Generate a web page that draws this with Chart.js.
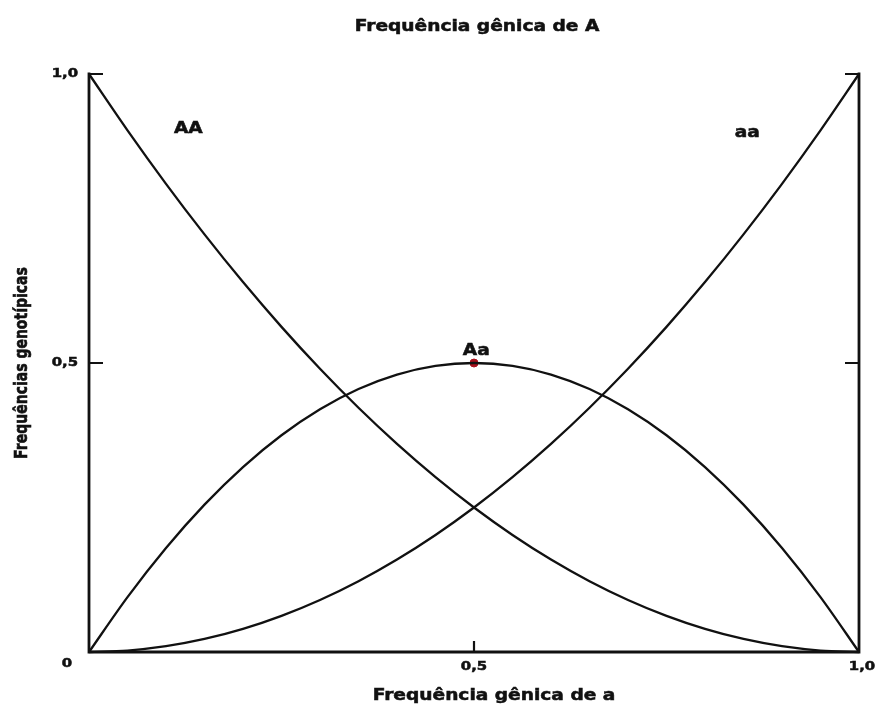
<!DOCTYPE html>
<html>
<head>
<meta charset="utf-8">
<title>Frequências genotípicas</title>
<script src="https://cdn.jsdelivr.net/npm/chart.js@4.4.1/dist/chart.umd.min.js"></script>
<style>
  html, body { margin: 0; padding: 0; background: #fff; }
  canvas { display: block; }
</style>
</head>
<body>
<canvas id="hwChart" width="876" height="706"></canvas>
<script>
// frequencia genica de a (q) and the genotype frequencies
const freqA = [0, 0.05, 0.1, 0.15, 0.2, 0.25, 0.3, 0.35, 0.4, 0.45, 0.5, 0.55, 0.6, 0.65, 0.7, 0.75, 0.8, 0.85, 0.9, 0.95, 1];
const freqAA = [1, 0.9025, 0.81, 0.7225, 0.64, 0.5625, 0.49, 0.4225, 0.36, 0.3025, 0.25, 0.2025, 0.16, 0.1225, 0.09, 0.0625, 0.04, 0.0225, 0.01, 0.0025, 0];
const freqAa = [0, 0.095, 0.18, 0.255, 0.32, 0.375, 0.42, 0.455, 0.48, 0.495, 0.5, 0.495, 0.48, 0.455, 0.42, 0.375, 0.32, 0.255, 0.18, 0.095, 0];
const freqaa = [0, 0.0025, 0.01, 0.0225, 0.04, 0.0625, 0.09, 0.1225, 0.16, 0.2025, 0.25, 0.3025, 0.36, 0.4225, 0.49, 0.5625, 0.64, 0.7225, 0.81, 0.9025, 1];
const peakX = [0.5];
const peakY = [0.5];

// tick labels
const xTicks = [0.5, 1];
const xTickLabels = ['0,5', '1,0'];
const yTicks = [0, 0.5, 1];
const yTickLabels = ['0', '0,5', '1,0'];

const toPoints = (ys) => freqA.map((x, i) => ({ x: x, y: ys[i] }));

const INK = '#111';
const SX = 1.24; // the original text is stretched sideways

function txt(ctx, s, x, y, size, align) {
  ctx.save();
  ctx.translate(x, y);
  ctx.scale(SX, 1);
  ctx.font = 'bold ' + size + 'px "DejaVu Sans"';
  ctx.fillStyle = INK;
  ctx.strokeStyle = INK;
  ctx.lineWidth = 0.5;
  ctx.textAlign = align || 'center';
  ctx.textBaseline = 'middle';
  ctx.fillText(s, 0, 0);
  ctx.strokeText(s, 0, 0);
  ctx.restore();
}

const axesPlugin = {
  id: 'axesPlugin',
  afterDatasetsDraw(chart) {
    const ctx = chart.ctx;
    const xs = chart.scales.x, ys = chart.scales.y;
    const a = chart.chartArea;
    ctx.save();
    ctx.strokeStyle = INK;
    ctx.lineWidth = 2.8;
    ctx.lineCap = 'square';
    // left, bottom, right frame (no top line)
    ctx.beginPath();
    ctx.moveTo(a.left, a.top);
    ctx.lineTo(a.left, a.bottom);
    ctx.lineTo(a.right, a.bottom);
    ctx.lineTo(a.right, a.top);
    ctx.stroke();
    // inner ticks on both vertical axes
    ctx.lineWidth = 2.2;
    ctx.lineCap = 'butt';
    [0.5, 1].forEach(v => {
      const py = ys.getPixelForValue(v);
      ctx.beginPath();
      ctx.moveTo(a.left, py); ctx.lineTo(a.left + 14, py);
      ctx.moveTo(a.right, py); ctx.lineTo(a.right - 14, py);
      ctx.stroke();
    });
    // inner tick at x = 0,5
    const px = xs.getPixelForValue(0.5);
    ctx.beginPath();
    ctx.moveTo(px, a.bottom); ctx.lineTo(px, a.bottom - 11);
    ctx.stroke();
    ctx.restore();

    // tick labels
    yTicks.forEach((v, i) => {
      if (v === 0) {
        txt(ctx, yTickLabels[i], a.left - 22, a.bottom + 12, 12, 'center');
      } else {
        txt(ctx, yTickLabels[i], a.left - 11, ys.getPixelForValue(v), 12, 'right');
      }
    });
    xTicks.forEach((v, i) => {
      txt(ctx, xTickLabels[i], xs.getPixelForValue(v) + (v === 1 ? 3 : 0), a.bottom + 15, 12, 'center');
    });

    // titles
    txt(ctx, 'Frequência gênica de A', 477, 27, 15, 'center');
    txt(ctx, 'Frequência gênica de a', 494, 696, 15, 'center');
    ctx.save();
    ctx.translate(22, (a.top + a.bottom) / 2);
    ctx.rotate(-Math.PI / 2);
    ctx.scale(1, SX);
    ctx.font = 'bold 14px "DejaVu Sans"';
    ctx.fillStyle = INK;
    ctx.strokeStyle = INK;
    ctx.lineWidth = 0.5;
    ctx.textAlign = 'center';
    ctx.textBaseline = 'middle';
    ctx.fillText('Frequências genotípicas', 0, 0);
    ctx.strokeText('Frequências genotípicas', 0, 0);
    ctx.restore();

    // curve names
    txt(ctx, 'AA', xs.getPixelForValue(0.129), ys.getPixelForValue(0.905), 15, 'center');
    txt(ctx, 'aa', xs.getPixelForValue(0.855), ys.getPixelForValue(0.897), 15, 'center');
    txt(ctx, 'Aa', xs.getPixelForValue(0.503), ys.getPixelForValue(0.5) - 12, 15, 'center');
  }
};

const lineStyle = {
  borderColor: INK,
  borderWidth: 2.3,
  pointRadius: 0,
  fill: false,
  tension: 0.4,
  cubicInterpolationMode: 'monotone',
  clip: false
};

new Chart(document.getElementById('hwChart').getContext('2d'), {
  type: 'line',
  data: {
    datasets: [
      Object.assign({ label: 'AA', data: toPoints(freqAA) }, lineStyle),
      Object.assign({ label: 'Aa', data: toPoints(freqAa) }, lineStyle),
      Object.assign({ label: 'aa', data: toPoints(freqaa) }, lineStyle),
      {
        label: 'pico Aa',
        type: 'scatter',
        data: peakX.map((x, i) => ({ x: x, y: peakY[i] })),
        pointRadius: 4,
        pointBackgroundColor: '#a8101c',
        pointBorderColor: '#a8101c',
        clip: false
      }
    ]
  },
  options: {
    responsive: false,
    animation: false,
    layout: { padding: { left: 89, right: 17, top: 74, bottom: 54 } },
    plugins: {
      legend: { display: false },
      tooltip: { enabled: false },
      title: { display: false }
    },
    scales: {
      x: { type: 'linear', min: 0, max: 1, display: false },
      y: { type: 'linear', min: 0, max: 1, display: false }
    }
  },
  plugins: [axesPlugin]
});
</script>
</body>
</html>
